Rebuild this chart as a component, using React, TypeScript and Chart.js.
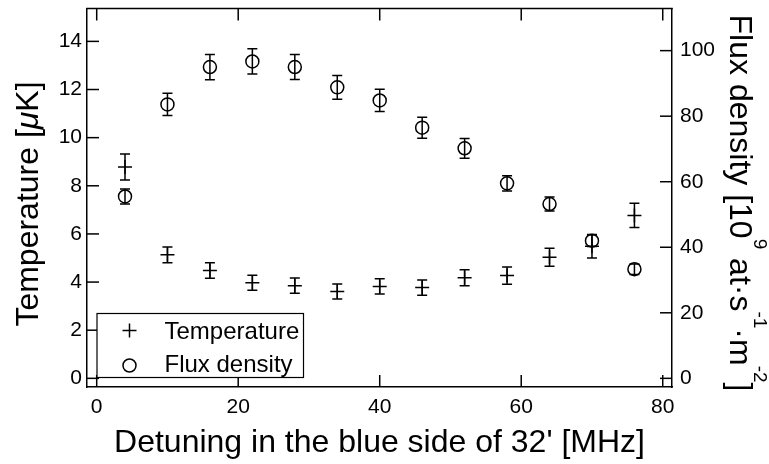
import React, { useEffect, useRef } from "react";
import { Chart, registerables } from "chart.js";

Chart.register(...registerables);

const DETUNING = [4, 10, 16, 22, 28, 34, 40, 46, 52, 58, 64, 70, 76];
const TEMPERATURE = [8.78, 5.13, 4.48, 3.97, 3.85, 3.61, 3.82, 3.77, 4.18, 4.27, 5.03, 5.49, 6.77];
const TEMPERATURE_ERR = [0.54, 0.33, 0.32, 0.31, 0.32, 0.31, 0.32, 0.32, 0.33, 0.36, 0.37, 0.49, 0.5];
const FLUX = [55.5, 83.6, 95.0, 96.7, 95.0, 88.8, 84.8, 76.5, 70.2, 59.5, 53.2, 42.0, 33.3];
const FLUX_ERR = [2.3, 3.4, 3.85, 3.85, 3.8, 3.6, 3.4, 3.2, 3.0, 2.3, 2.1, 1.8, 1.6];

const X_TICKS = [0, 20, 40, 60, 80];
const TEMP_TICKS = [0, 2, 4, 6, 8, 10, 12, 14];
const FLUX_TICKS = [0, 20, 40, 60, 80, 100];
const SERIES_LABELS = ["Temperature", "Flux density"];
const X_TITLE = "Detuning in the blue side of 32' [MHz]";

const FONT = '"Liberation Sans", Arial, Helvetica, sans-serif';
const INK = "#000";
const TITLE_SIZE = 32;

type Seg = { t: string; italic?: boolean; sup?: boolean };

function drawSegments(ctx: CanvasRenderingContext2D, segs: Seg[], size: number, supSize: number, supRaise: number) {
  const fontFor = (s: Seg) => `${s.italic ? "italic " : ""}${s.sup ? supSize : size}px ${FONT}`;
  let total = 0;
  const widths = segs.map((s) => {
    ctx.font = fontFor(s);
    const w = ctx.measureText(s.t).width;
    total += w;
    return w;
  });
  let x = -total / 2;
  ctx.textAlign = "left";
  ctx.textBaseline = "alphabetic";
  segs.forEach((s, i) => {
    ctx.font = fontFor(s);
    ctx.fillText(s.t, x, s.sup ? -supRaise : 0);
    x += widths[i];
  });
}

const decorPlugin = {
  id: "decor",
  afterDatasetsDraw(chart: any) {
    const ctx: CanvasRenderingContext2D = chart.ctx;
    const xs = chart.scales.x;
    const sets = [
      { scale: chart.scales.y, vals: TEMPERATURE, errs: TEMPERATURE_ERR },
      { scale: chart.scales.y2, vals: FLUX, errs: FLUX_ERR },
    ];
    ctx.save();
    ctx.strokeStyle = INK;
    ctx.lineWidth = 1.5;
    const cap = 5;
    sets.forEach(({ scale, vals, errs }) => {
      DETUNING.forEach((d, i) => {
        const px = xs.getPixelForValue(d);
        const y1 = scale.getPixelForValue(vals[i] + errs[i]);
        const y2 = scale.getPixelForValue(vals[i] - errs[i]);
        ctx.beginPath();
        ctx.moveTo(px, y1);
        ctx.lineTo(px, y2);
        ctx.moveTo(px - cap, y1);
        ctx.lineTo(px + cap, y1);
        ctx.moveTo(px - cap, y2);
        ctx.lineTo(px + cap, y2);
        ctx.stroke();
      });
    });
    ctx.restore();
  },
  afterDraw(chart: any) {
    const ctx: CanvasRenderingContext2D = chart.ctx;
    const { left, right, top, bottom } = chart.chartArea;
    const xs = chart.scales.x;
    const ys = chart.scales.y;
    const y2s = chart.scales.y2;
    const tl = 12;
    ctx.save();
    ctx.strokeStyle = INK;
    ctx.fillStyle = INK;
    ctx.lineWidth = 1.5;
    const line = (a: number, b: number, c: number, d: number) => {
      ctx.beginPath();
      ctx.moveTo(a, b);
      ctx.lineTo(c, d);
      ctx.stroke();
    };
    // top frame
    line(left - 0.75, top, right + 0.75, top);
    // inward ticks
    X_TICKS.forEach((v) => {
      const p = xs.getPixelForValue(v);
      line(p, bottom, p, bottom - tl);
      line(p, top, p, top + tl);
    });
    TEMP_TICKS.forEach((v) => {
      const p = ys.getPixelForValue(v);
      line(left, p, left + tl, p);
    });
    FLUX_TICKS.forEach((v) => {
      const p = y2s.getPixelForValue(v);
      line(right, p, right - tl, p);
    });

    // legend
    const lx = 97, ly = 313.5, lw = 206.5, lh = 64;
    ctx.fillStyle = "#fff";
    ctx.fillRect(lx, ly, lw, lh);
    ctx.lineWidth = 1.2;
    ctx.strokeRect(lx, ly, lw, lh);
    ctx.fillStyle = INK;
    ctx.lineWidth = 1.5;
    const sx = 129.5;
    const row1 = 330.5, row2 = 365.5;
    line(sx - 7, row1, sx + 7, row1);
    line(sx, row1 - 7, sx, row1 + 7);
    ctx.beginPath();
    ctx.arc(sx, row2, 6.5, 0, Math.PI * 2);
    ctx.stroke();
    ctx.font = `24px ${FONT}`;
    ctx.textAlign = "left";
    ctx.textBaseline = "alphabetic";
    ctx.fillText(SERIES_LABELS[0], 164.5, 338.5);
    ctx.fillText(SERIES_LABELS[1], 164.5, 372);

    // x title
    ctx.font = `${TITLE_SIZE}px ${FONT}`;
    ctx.textAlign = "center";
    ctx.fillText(X_TITLE, (left + right) / 2, 452);

    // left title
    ctx.save();
    ctx.translate(38, 204);
    ctx.rotate(-Math.PI / 2);
    drawSegments(ctx, [{ t: "Temperature [" }, { t: "\u03bc", italic: true }, { t: "K]" }], TITLE_SIZE, 18, 0);
    ctx.restore();

    // right title
    ctx.save();
    ctx.translate(730, 203);
    ctx.rotate(Math.PI / 2);
    drawSegments(
      ctx,
      [
        { t: "Flux density [10" },
        { t: "9", sup: true },
        { t: " at\u00b7s" },
        { t: "-1", sup: true },
        { t: "\u00b7m" },
        { t: "-2", sup: true },
        { t: "]" },
      ],
      TITLE_SIZE,
      19,
      24
    );
    ctx.restore();
    ctx.restore();
  },
};

const zeroPad = (s: any) => {
  s.paddingTop = 0;
  s.paddingBottom = 0;
  s.paddingLeft = 0;
  s.paddingRight = 0;
};

export default function App() {
  const ref = useRef<HTMLCanvasElement>(null);
  useEffect(() => {
    const tickFont = { family: FONT, size: 21 };
    const chart = new Chart(ref.current!, {
      type: "scatter",
      data: {
        datasets: [
          {
            label: SERIES_LABELS[0],
            data: DETUNING.map((x, i) => ({ x, y: TEMPERATURE[i] })),
            yAxisID: "y",
            pointStyle: "cross",
            pointRadius: 7,
            pointHoverRadius: 7,
            borderColor: INK,
            backgroundColor: INK,
            borderWidth: 1.5,
          },
          {
            label: SERIES_LABELS[1],
            data: DETUNING.map((x, i) => ({ x, y: FLUX[i] })),
            yAxisID: "y2",
            pointStyle: "circle",
            pointRadius: 6.5,
            pointHoverRadius: 6.5,
            borderColor: INK,
            backgroundColor: "rgba(0,0,0,0)",
            borderWidth: 1.5,
          },
        ],
      },
      options: {
        responsive: false,
        animation: false,
        events: [],
        layout: { padding: { top: 7, left: 0, right: 0, bottom: 0 } },
        plugins: { legend: { display: false }, tooltip: { enabled: false } },
        scales: {
          x: {
            type: "linear",
            position: "bottom",
            min: -1.371,
            max: 81.31,
            afterBuildTicks: (s: any) => {
              s.ticks = X_TICKS.map((v) => ({ value: v }));
            },
            afterFit: (s: any) => {
              s.height = 77;
              zeroPad(s);
            },
            ticks: { font: tickFont, color: INK, padding: 8, maxRotation: 0, autoSkip: false },
            grid: { display: false, drawTicks: false },
            border: { display: true, color: INK, width: 1.5 },
          },
          y: {
            type: "linear",
            position: "left",
            min: -0.36,
            max: 15.366,
            afterBuildTicks: (s: any) => {
              s.ticks = TEMP_TICKS.map((v) => ({ value: v }));
            },
            afterFit: (s: any) => {
              s.width = 87;
              zeroPad(s);
            },
            ticks: { font: tickFont, color: INK, padding: 5, autoSkip: false },
            grid: { display: false, drawTicks: false },
            border: { display: true, color: INK, width: 1.5 },
          },
          y2: {
            type: "linear",
            position: "right",
            min: -2.644,
            max: 112.86,
            afterBuildTicks: (s: any) => {
              s.ticks = FLUX_TICKS.map((v) => ({ value: v }));
            },
            afterFit: (s: any) => {
              s.width = 97;
              zeroPad(s);
            },
            ticks: { font: tickFont, color: INK, padding: 8, autoSkip: false },
            grid: { display: false, drawTicks: false },
            border: { display: true, color: INK, width: 1.5 },
          },
        },
      },
      plugins: [decorPlugin],
    } as any);
    return () => chart.destroy();
  }, []);
  return (
    <div style={{ position: "fixed", left: 0, top: 0, width: 769, height: 464, background: "#fff" }}>
      <canvas ref={ref} width={769} height={464} style={{ display: "block", width: 769, height: 464 }} />
    </div>
  );
}
